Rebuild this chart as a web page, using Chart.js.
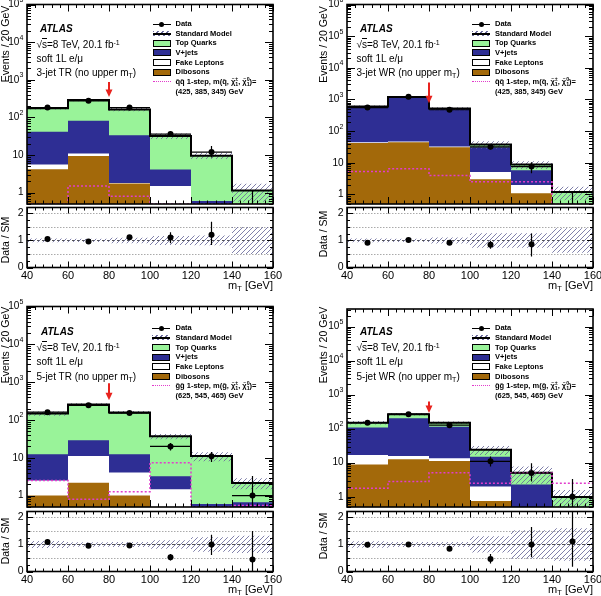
<!DOCTYPE html>
<html>
<head>
<meta charset="utf-8">
<script src="https://cdn.jsdelivr.net/npm/chart.js@4.4.1/dist/chart.umd.min.js"></script>
<style>
body { margin: 0; background: #fff; }
#wrap { position: relative; width: 601px; height: 596px; overflow: hidden; font-family: "Liberation Sans", Arial, sans-serif; }
canvas { position: absolute; left: 0; top: 0; }
.t { position: absolute; white-space: nowrap; line-height: 1; transform: translateY(-50%); color: #000; }
.atlas { font-weight: bold; font-style: italic; font-size: 10px; }
.an { font-size: 10px; }
.lg { font-size: 7.5px; font-weight: bold; }
.sym { position: absolute; box-sizing: border-box; }
sup { font-size: 70%; vertical-align: 0.45em; line-height: 0; }
sub { font-size: 70%; vertical-align: -0.25em; line-height: 0; }
.ss { display: inline-block; vertical-align: -0.35em; font-size: 70%; line-height: 0.95; }
.ss span { display: block; }
</style>
</head>
<body>
<div id="wrap"></div>
<script>
const binEdges = [40, 60, 80, 100, 120, 140, 160];
const binCenters = [50, 70, 90, 110, 130, 150];
const xTickLabels = [40, 60, 80, 100, 120, 140, 160];
const ratioTickLabels = [0, 1, 2];
const legendLabels = ['Data', 'Standard Model', 'Top Quarks', 'V+jets', 'Fake Leptons', 'Dibosons'];

// 3-jet TR
const tr3Dibosons = [4.2, 9.5, 1.76, 0.3, 0.2, 0.05];
const tr3Fake = [1.4, 1.5, 0.05, 1.2, 0.1, 0.05];
const tr3Vjets = [36, 70, 32, 2.6, 0.3, 0.1];
const tr3Top = [133, 207, 129, 28, 9, 0.95];
const tr3Signal = [0.5, 1.5, 0.8, 0.5, 0.5, 0.5];
const tr3Data = [183, 276, 182, 36, 12, 0];
const tr3DataUp = [13.5, 16.6, 13.5, 6, 5.5, 1.15];
const tr3DataDown = [13.5, 16.6, 13.5, 6, 3.4, 0];
const tr3SmUnc = [0.07, 0.06, 0.1, 0.17, 0.18, 0.5];
const tr3Ratio = [1.05, 0.96, 1.12, 1.11, 1.21, null];
const tr3RatioUp = [0.08, 0.06, 0.08, 0.19, 0.48, 0];
const tr3RatioDown = [0.08, 0.06, 0.08, 0.21, 0.38, 0];

// 3-jet WR
const wr3Dibosons = [42, 45, 31, 3.0, 1.1, 0.05];
const wr3Fake = [3, 2, 1.5, 2.1, 0.9, 0.05];
const wr3Vjets = [545, 1128, 470, 26, 3.8, 0.1];
const wr3Top = [15, 25, 12.5, 7, 3, 1.0];
const wr3Signal = [5.3, 6.5, 4, 2.5, 2.5, 0.5];
const wr3Data = [557, 1220, 474, 32, 7.6, 0];
const wr3DataUp = [24, 35, 22, 5.7, 2.9, 1.15];
const wr3DataDown = [24, 35, 22, 5.7, 2.9, 0];
const wr3SmUnc = [0.07, 0.06, 0.11, 0.27, 0.27, 0.45];
const wr3Ratio = [0.92, 1.02, 0.92, 0.84, 0.86, null];
const wr3RatioUp = [0.04, 0.03, 0.05, 0.15, 0.4, 0];
const wr3RatioDown = [0.04, 0.03, 0.05, 0.15, 0.45, 0];

// 5-jet TR
const tr5Dibosons = [1.0, 2.2, 1.0, 0.2, 0.1, 0.1];
const tr5Fake = [1.5, 9, 3.1, 1.27, 0.2, 0.2];
const tr5Vjets = [10, 18, 8.4, 1.8, 0.3, 0.37];
const tr5Top = [135, 228, 146, 33.7, 10.5, 1.5];
const tr5Signal = [2.5, 0.8, 1.27, 7.4, 0.5, 0.55];
const tr5Data = [161, 244, 152, 20, 11, 1];
const tr5DataUp = [12.7, 15.6, 12.3, 4.5, 3.3, 2.3];
const tr5DataDown = [12.7, 15.6, 12.3, 4.5, 3.3, 0.83];
const tr5SmUnc = [0.13, 0.08, 0.09, 0.16, 0.27, 0.32];
const tr5Ratio = [1.09, 0.95, 0.96, 0.53, 1.0, 0.44];
const tr5RatioUp = [0.1, 0.07, 0.08, 0.12, 0.36, 1.06];
const tr5RatioDown = [0.1, 0.07, 0.08, 0.12, 0.39, 0.44];

// 5-jet WR
const wr5Dibosons = [8.8, 12.7, 11.3, 0.75, 0.1, 0.02];
const wr5Fake = [8, 3.1, 2.3, 1.25, 0.2, 0.02];
const wr5Vjets = [91, 188, 101, 13, 2.0, 0.05];
const wr5Top = [43, 63, 36, 9, 2.8, 0.9];
const wr5Signal = [1.78, 2.8, 5.1, 2.5, 5.1, 2.5];
const wr5Data = [150, 267, 127, 11, 5, 1];
const wr5DataUp = [12, 16, 11, 4.2, 4.6, 2.3];
const wr5DataDown = [12, 16, 11, 3.3, 2.2, 0.83];
const wr5SmUnc = [0.12, 0.09, 0.09, 0.3, 0.53, 0.6];
const wr5Ratio = [0.99, 1.0, 0.84, 0.46, 1.0, 1.11];
const wr5RatioUp = [0.08, 0.06, 0.08, 0.19, 0.65, 1.4];
const wr5RatioDown = [0.08, 0.06, 0.08, 0.16, 0.47, 0.93];

const W = 601, H = 596;
const FONT = '"Liberation Sans", Arial, sans-serif';
const GREEN = '#99f399';
const BLUE = '#2e2e94';
const BROWN = '#a3690a';
const MAGENTA = '#e23ccc';
const RED = '#e8231e';
const HATCH_CSS = 'repeating-linear-gradient(135deg, #6a6a9c 0 1px, transparent 1px 3.5px)';

// hatch pattern for the SM uncertainty
const tile = document.createElement('canvas');
tile.width = 5; tile.height = 5;
const tctx = tile.getContext('2d');
tctx.strokeStyle = '#6a6a9c';
tctx.lineWidth = 0.85;
tctx.beginPath();
tctx.moveTo(0, 5); tctx.lineTo(5, 0);
tctx.moveTo(-1, 1); tctx.lineTo(1, -1);
tctx.moveTo(4, 6); tctx.lineTo(6, 4);
tctx.stroke();
const hatch = tctx.createPattern(tile, 'repeat');

const SQ = 'q\u0303q\u0303 1-step, m(q\u0303, \u03c7\u0303<span class="ss"><span>\u00b1</span><span>1</span></span>, \u03c7\u0303<span class="ss"><span>0</span><span>1</span></span>)=';
const GL = 'g\u0303g\u0303 1-step, m(g\u0303, \u03c7\u0303<span class="ss"><span>\u00b1</span><span>1</span></span>, \u03c7\u0303<span class="ss"><span>0</span><span>1</span></span>)=';

const panels = [
  { L: 27, R: 273, T: 4.5, B: 204, rT: 207.5, rB: 267.5, yMax: 1e5, titleX: 8.5, evY: 44, dsY: 240,
    arrow: { x: 80, from: 870, to: 347 }, atlasX: 40, textX: 36.5, annoY: [29, 45, 59.3, 73],
    legSymX: 152.5, legTextX: 175.5, legY: 24, region: '3-jet TR (no upper m<sub>T</sub>)', sig: SQ, mass: '(425, 385, 345) GeV',
    s: { dib: tr3Dibosons, fake: tr3Fake, vjets: tr3Vjets, top: tr3Top, sig: tr3Signal, data: tr3Data, up: tr3DataUp, down: tr3DataDown,
         unc: tr3SmUnc, ratio: tr3Ratio, rUp: tr3RatioUp, rDown: tr3RatioDown } },
  { L: 347, R: 593, T: 4.5, B: 204, rT: 207.5, rB: 267.5, yMax: 1e6, titleX: 327, evY: 44.5, dsY: 234,
    arrow: { x: 80, from: 3470, to: 760 }, atlasX: 360, textX: 356.5, annoY: [29, 45, 59.3, 72.7],
    legSymX: 472, legTextX: 495, legY: 24, region: '3-jet WR (no upper m<sub>T</sub>)', sig: SQ, mass: '(425, 385, 345) GeV',
    s: { dib: wr3Dibosons, fake: wr3Fake, vjets: wr3Vjets, top: wr3Top, sig: wr3Signal, data: wr3Data, up: wr3DataUp, down: wr3DataDown,
         unc: wr3SmUnc, ratio: wr3Ratio, rUp: wr3RatioUp, rDown: wr3RatioDown } },
  { L: 27, R: 273, T: 306.5, B: 507, rT: 511.5, rB: 571.5, yMax: 1e5, titleX: 8.5, evY: 345, dsY: 541,
    arrow: { x: 80, from: 940, to: 333 }, atlasX: 41, textX: 36.5, annoY: [332.3, 347.7, 362, 376.7],
    legSymX: 152, legTextX: 175.5, legY: 328.3, region: '5-jet TR (no upper m<sub>T</sub>)', sig: GL, mass: '(625, 545, 465) GeV',
    s: { dib: tr5Dibosons, fake: tr5Fake, vjets: tr5Vjets, top: tr5Top, sig: tr5Signal, data: tr5Data, up: tr5DataUp, down: tr5DataDown,
         unc: tr5SmUnc, ratio: tr5Ratio, rUp: tr5RatioUp, rDown: tr5RatioDown } },
  { L: 347, R: 593, T: 309, B: 507, rT: 511.5, rB: 571.5, yMax: 3.3e5, titleX: 327, evY: 345, dsY: 536,
    arrow: { x: 80, from: 630, to: 290 }, atlasX: 360, textX: 356.5, annoY: [332.3, 347.7, 362, 376.7],
    legSymX: 472, legTextX: 495, legY: 328.3, region: '5-jet WR (no upper m<sub>T</sub>)', sig: GL, mass: '(625, 545, 465) GeV',
    s: { dib: wr5Dibosons, fake: wr5Fake, vjets: wr5Vjets, top: wr5Top, sig: wr5Signal, data: wr5Data, up: wr5DataUp, down: wr5DataDown,
         unc: wr5SmUnc, ratio: wr5Ratio, rUp: wr5RatioUp, rDown: wr5RatioDown } }
];

// frame, inward ticks, labels, error bars, arrow (ROOT look)
const rootAxes = {
  id: 'rootAxes',
  beforeDatasetsDraw(chart, args, o) {
    const { ctx, chartArea: a, scales: { y } } = chart;
    ctx.save();
    ctx.lineWidth = 1;
    (o.refLines || []).forEach(v => {
      const py = Math.round(y.getPixelForValue(v)) + 0.5;
      ctx.strokeStyle = v === 1 ? '#555' : '#aaa';
      ctx.setLineDash(v === 1 ? [3, 2] : [1.5, 1.5]);
      ctx.beginPath(); ctx.moveTo(a.left, py); ctx.lineTo(a.right, py); ctx.stroke();
    });
    ctx.restore();
  },
  afterDatasetsDraw(chart, args, o) {
    const { ctx, chartArea: a, scales: { x, y } } = chart;
    const py = v => (v > y.min ? y.getPixelForValue(v) : a.bottom + 2);
    ctx.save();
    ctx.beginPath(); ctx.rect(a.left, a.top, a.width, a.height); ctx.clip();
    ctx.strokeStyle = '#000';
    ctx.lineWidth = 1.2;
    (o.errors || []).forEach(e => {
      const px = x.getPixelForValue(e.x);
      ctx.beginPath();
      ctx.moveTo(px, py(e.lo)); ctx.lineTo(px, py(e.hi));
      if (e.xlo !== undefined) {
        ctx.moveTo(x.getPixelForValue(e.xlo), py(e.y));
        ctx.lineTo(x.getPixelForValue(e.xhi), py(e.y));
      }
      ctx.stroke();
    });
    if (o.arrow) {
      const ax = x.getPixelForValue(o.arrow.x);
      const y1 = y.getPixelForValue(o.arrow.from), y2 = y.getPixelForValue(o.arrow.to);
      ctx.strokeStyle = RED; ctx.lineWidth = 2;
      ctx.beginPath(); ctx.moveTo(ax, y1); ctx.lineTo(ax, y2 - 6); ctx.stroke();
      ctx.fillStyle = RED;
      ctx.beginPath(); ctx.moveTo(ax - 3.5, y2 - 7.5); ctx.lineTo(ax + 3.5, y2 - 7.5); ctx.lineTo(ax, y2); ctx.closePath(); ctx.fill();
    }
    ctx.restore();
  },
  afterDraw(chart, args, o) {
    const { ctx, chartArea: a, scales: { x, y } } = chart;
    const seg = (x1, y1, x2, y2) => { ctx.beginPath(); ctx.moveTo(x1, y1); ctx.lineTo(x2, y2); ctx.stroke(); };
    ctx.save();
    ctx.strokeStyle = '#000'; ctx.fillStyle = '#000'; ctx.lineWidth = 1;
    for (let v = 40; v <= 160; v += 4) {
      const px = Math.round(x.getPixelForValue(v)) + 0.5;
      const len = (v - 40) % 20 === 0 ? o.xMajor : o.xMajor / 2;
      seg(px, a.bottom, px, a.bottom - len);
      seg(px, a.top, px, a.top + len);
    }
    const yTicks = [];
    if (o.log) {
      for (let d = -1; d <= 6; d++) for (let m = 1; m <= 9; m++) {
        const v = m * Math.pow(10, d);
        if (v >= y.min && v <= y.max * 1.0001) yTicks.push({ v, major: m === 1, d });
      }
    } else {
      for (let k = 0; k * 0.25 <= y.max; k++) yTicks.push({ v: k * 0.25, major: k % 4 === 0 });
    }
    yTicks.forEach(t => {
      const py = Math.round(y.getPixelForValue(t.v)) + 0.5;
      const len = t.major ? o.yMajor : o.yMajor / 2;
      seg(a.left, py, a.left + len, py);
      seg(a.right, py, a.right - len, py);
    });
    ctx.lineWidth = 1.6;
    ctx.strokeRect(a.left, a.top, a.width, a.height);

    // y labels
    const xr = a.left - 3.5;
    ctx.textBaseline = 'middle'; ctx.textAlign = 'right';
    if (o.log) {
      yTicks.filter(t => t.major).forEach(t => {
        const py = y.getPixelForValue(t.v);
        ctx.font = '10px ' + FONT;
        if (t.d < 2) {
          ctx.fillText(t.d === 0 ? '1' : '10', xr, py);
        } else {
          ctx.font = '7px ' + FONT;
          const ws = ctx.measureText(String(t.d)).width;
          ctx.fillText(String(t.d), xr, py - 4.5);
          ctx.font = '10px ' + FONT;
          ctx.fillText('10', xr - ws - 0.3, py);
        }
      });
    } else {
      ctx.font = '10.5px ' + FONT;
      ratioTickLabels.forEach(v => ctx.fillText(String(v), xr, y.getPixelForValue(v)));
    }

    if (o.xLabels) {
      ctx.font = '11px ' + FONT; ctx.textAlign = 'center';
      xTickLabels.forEach(v => ctx.fillText(String(v), x.getPixelForValue(v), a.bottom + 8.5));
      const ty = a.bottom + 18;
      ctx.textAlign = 'right';
      ctx.fillText(' [GeV]', a.right, ty);
      const wG = ctx.measureText(' [GeV]').width;
      ctx.font = '7.5px ' + FONT;
      ctx.fillText('T', a.right - wG, ty + 3);
      const wT = ctx.measureText('T').width;
      ctx.font = '11px ' + FONT;
      ctx.fillText('m', a.right - wG - wT, ty);
    }

    ctx.save();
    ctx.translate(o.titleX, o.titleY);
    ctx.rotate(-Math.PI / 2);
    ctx.textAlign = 'center'; ctx.textBaseline = 'alphabetic';
    ctx.font = '10.5px ' + FONT;
    ctx.fillText(o.title, 0, 0);
    ctx.restore();
    ctx.restore();
  }
};

const wrap = document.getElementById('wrap');
function newCanvas() {
  const c = document.createElement('canvas');
  c.width = W; c.height = H;
  c.style.width = W + 'px'; c.style.height = H + 'px';
  wrap.appendChild(c);
  return c;
}
function stepPoints(vals) {
  const pts = vals.map((v, i) => ({ x: binEdges[i], y: v }));
  pts.push({ x: binEdges[vals.length], y: vals[vals.length - 1] });
  return pts;
}
const addArrays = (a, b) => a.map((v, i) => v + b[i]);
const step = (vals, extra) => Object.assign({ data: stepPoints(vals), stepped: true, pointRadius: 0, borderWidth: 0, fill: false }, extra);
const baseOptions = (pad, yScale, axes) => ({
  responsive: false, animation: false, devicePixelRatio: 1,
  layout: { padding: pad },
  scales: { x: { type: 'linear', min: 40, max: 160, display: false }, y: yScale },
  plugins: { legend: { display: false }, tooltip: { enabled: false }, filler: { drawTime: 'beforeDatasetDraw' }, rootAxes: axes }
});

function mainChart(p) {
  const s = p.s;
  const c1 = s.dib, c2 = addArrays(c1, s.fake), c3 = addArrays(c2, s.vjets), sm = addArrays(c3, s.top);
  const hi = sm.map((v, i) => v * (1 + s.unc[i])), lo = sm.map((v, i) => v * (1 - s.unc[i]));
  const errors = s.data.map((v, i) => v > 0
    ? { x: binCenters[i], y: v, lo: v - s.down[i], hi: v + s.up[i], xlo: binEdges[i], xhi: binEdges[i + 1] }
    : { x: binCenters[i], lo: 0, hi: s.up[i] });
  new Chart(newCanvas(), {
    type: 'line',
    data: { datasets: [
      step(sm, { fill: 'start', backgroundColor: GREEN, order: 8 }),
      step(c3, { fill: 'start', backgroundColor: BLUE, order: 7 }),
      step(c2, { fill: 'start', backgroundColor: '#ffffff', order: 6 }),
      step(c1, { fill: 'start', backgroundColor: BROWN, order: 5 }),
      step(hi, { fill: '+1', backgroundColor: hatch, order: 3 }),
      step(lo, { order: 4 }),
      step(sm, { borderColor: '#000', borderWidth: 2, order: 2 }),
      step(s.sig, { borderColor: MAGENTA, borderWidth: 1.5, borderDash: [2, 2], order: 1 }),
      { data: s.data.map((v, i) => ({ x: binCenters[i], y: v > 0 ? v : null })), showLine: false,
        pointRadius: 3, pointBackgroundColor: '#000', pointBorderWidth: 0, order: 0 }
    ] },
    options: baseOptions({ left: p.L, right: W - p.R, top: p.T, bottom: H - p.B },
      { type: 'logarithmic', min: 0.5, max: p.yMax, display: false },
      { log: true, xMajor: 7, yMajor: 8, errors, arrow: p.arrow, title: 'Events / 20 GeV', titleX: p.titleX, titleY: p.evY }),
    plugins: [rootAxes]
  });
}

function ratioChart(p) {
  const s = p.s;
  const errors = [];
  s.ratio.forEach((v, i) => { if (v !== null) errors.push({ x: binCenters[i], lo: v - s.rDown[i], hi: v + s.rUp[i] }); });
  new Chart(newCanvas(), {
    type: 'line',
    data: { datasets: [
      step(s.unc.map(u => 1 + u), { fill: '+1', backgroundColor: hatch, order: 1 }),
      step(s.unc.map(u => 1 - u), { order: 2 }),
      { data: s.ratio.map((v, i) => ({ x: binCenters[i], y: v })), showLine: false,
        pointRadius: 3, pointBackgroundColor: '#000', pointBorderWidth: 0, order: 0 }
    ] },
    options: baseOptions({ left: p.L, right: W - p.R, top: p.rT, bottom: H - p.rB },
      { type: 'linear', min: 0, max: 2.22, display: false },
      { log: false, xMajor: 6, yMajor: 6, errors, refLines: [0.5, 1, 1.5, 2], xLabels: true,
        title: 'Data / SM', titleX: p.titleX, titleY: p.dsY }),
    plugins: [rootAxes]
  });
}

function label(cls, x, y, html) {
  const d = document.createElement('div');
  d.className = 't ' + cls;
  d.style.left = x + 'px'; d.style.top = y + 'px';
  d.innerHTML = html;
  wrap.appendChild(d);
}
function symbol(x, y, w, h, css) {
  const d = document.createElement('div');
  d.className = 'sym';
  Object.assign(d.style, { left: x + 'px', top: (y - h / 2) + 'px', width: w + 'px', height: h + 'px' }, css);
  wrap.appendChild(d);
}

panels.forEach(p => {
  mainChart(p);
  ratioChart(p);
});

panels.forEach(p => {
  label('atlas', p.atlasX, p.annoY[0], 'ATLAS');
  label('an', p.textX, p.annoY[1], '\u221a<span style="text-decoration:overline">s</span>=8 TeV, 20.1 fb<sup>-1</sup>');
  label('an', p.textX, p.annoY[2], 'soft 1L e/\u03bc');
  label('an', p.textX, p.annoY[3], p.region);

  const ys = [0, 1, 2, 3, 4, 5, 6].map(k => p.legY + k * 9.65);
  const sx = p.legSymX;
  symbol(sx, ys[0], 18, 1, { background: '#000' });
  symbol(sx + 6.5, ys[0], 5, 5, { background: '#000', borderRadius: '50%' });
  symbol(sx, ys[1], 18, 5, { background: HATCH_CSS });
  symbol(sx, ys[1], 18, 2, { background: '#000' });
  [GREEN, BLUE, '#fff', BROWN].forEach((c, k) => symbol(sx, ys[2 + k], 18, 7, { background: c, border: '1px solid #000' }));
  symbol(sx, ys[6], 18, 1.5, { borderTop: '1.5px dotted ' + MAGENTA });
  legendLabels.forEach((t, k) => label('lg', p.legTextX, ys[k], t));
  label('lg', p.legTextX, ys[6], p.sig);
  label('lg', p.legTextX, ys[6] + 10, p.mass);
});
</script>
</body>
</html>
